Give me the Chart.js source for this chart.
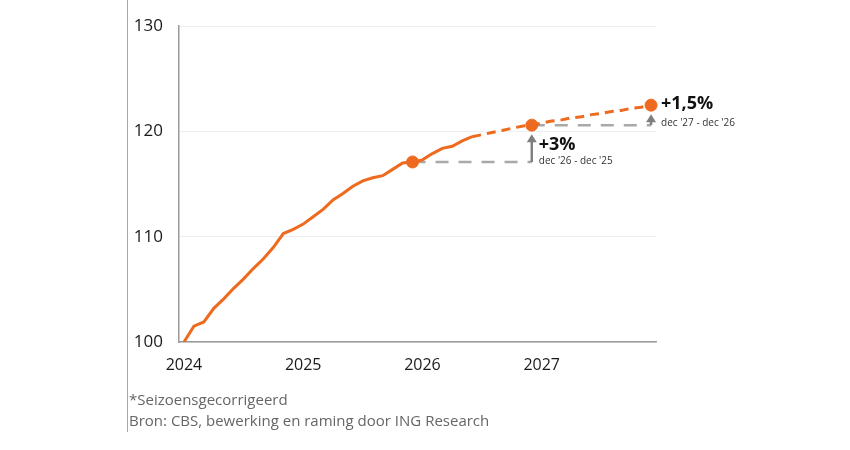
<!DOCTYPE html>
<html>
<head>
<meta charset="utf-8">
<script src="https://cdn.jsdelivr.net/npm/chart.js@4"></script>
<style>
  html, body { margin: 0; padding: 0; background: #fff; }
  #wrap { position: relative; width: 850px; height: 450px; overflow: hidden; }
  #chart { position: absolute; left: 0; top: 0; }
  .edge { position: absolute; left: 127px; top: 0; height: 432px; border-left: 1.5px solid #a8a8a8; }
  .note { position: absolute; left: 129px; font: 15px 'Open Sans', sans-serif; color: #666; white-space: nowrap; }
</style>
</head>
<body>
<div id="wrap">
  <canvas id="chart" width="850" height="450"></canvas>
  <div class="edge"></div>
  <div class="note" style="top:389px">*Seizoensgecorrigeerd</div>
  <div class="note" style="top:410px">Bron: CBS, bewerking en raming door ING Research</div>
</div>
<script>
  // Categories: monthly, jan 2024 .. dec 2027
  var years = ['2024', '2025', '2026', '2027'];
  var months = [];
  years.forEach(function(y) {
    for (var m = 1; m <= 12; m++) months.push(y + '-' + (m < 10 ? '0' + m : m));
  });

  // Index (jan 2024 = 100), realised up to jun 2026
  var realised = [
    100.0, 101.5, 101.9, 103.2, 104.1, 105.1, 106.0, 107.0, 107.9, 109.0, 110.3, 110.7,
    111.2, 111.9, 112.6, 113.5, 114.1, 114.8, 115.3, 115.6, 115.8, 116.4, 117.0, 117.1,
    117.3, 117.9, 118.4, 118.6, 119.1, 119.5
  ];
  // ING forecast, jun 2026 .. dec 2027
  var forecast = [
    119.5, 119.7, 119.9, 120.1, 120.3, 120.5, 120.6,
    120.8, 121.0, 121.1, 121.3, 121.4, 121.6, 121.7, 121.9, 122.0, 122.2, 122.3, 122.5
  ];
  var markerMonths = ['2025-12', '2026-12', '2027-12'];
  var markerValues = [117.1, 120.6, 122.5];
  var growthLabels = ['+3%', '+1,5%'];
  var growthPeriods = ["dec '26 - dec '25", "dec '27 - dec '26"];
  var yTicks = [100, 110, 120, 130];

  var ORANGE = '#EE6A1F';
  var GREY = '#a9a9a9';

  function seriesAt(values, startMonth) {
    var start = months.indexOf(startMonth);
    return months.map(function(m, i) {
      var k = i - start;
      return k >= 0 && k < values.length ? values[k] : null;
    });
  }

  var markerData = months.map(function(m) {
    var k = markerMonths.indexOf(m);
    return k >= 0 ? markerValues[k] : null;
  });

  // grey reference lines: previous december level carried to the next december
  var refLines = [0, 1].map(function(i) {
    return months.map(function(m) {
      return (m === markerMonths[i] || m === markerMonths[i + 1]) ? markerValues[i] : null;
    });
  });

  // arrows + growth labels
  var growthPlugin = {
    id: 'growth',
    afterDatasetsDraw: function(chart) {
      var ctx = chart.ctx;
      var xs = chart.scales.x, ys = chart.scales.y;
      for (var i = 0; i < 2; i++) {
        var x = xs.getPixelForValue(months.indexOf(markerMonths[i + 1]));
        var yFrom = ys.getPixelForValue(markerValues[i]);
        var yTo = ys.getPixelForValue(markerValues[i + 1]) + 9;
        ctx.save();
        ctx.strokeStyle = '#7f7f7f';
        ctx.fillStyle = '#7f7f7f';
        ctx.lineWidth = 2.5;
        ctx.beginPath();
        ctx.moveTo(x, yFrom);
        ctx.lineTo(x, yTo + 6);
        ctx.stroke();
        ctx.beginPath();
        ctx.moveTo(x, yTo);
        ctx.lineTo(x - 5, yTo + 8);
        ctx.lineTo(x + 5, yTo + 8);
        ctx.closePath();
        ctx.fill();

        ctx.textAlign = 'left';
        ctx.textBaseline = 'middle';
        ctx.fillStyle = '#111';
        ctx.font = 'bold 18px "Open Sans", sans-serif';
        var tx, ty1, ty2;
        if (i === 0) { tx = x + 7; ty1 = yFrom - 17; ty2 = yFrom - 1; }
        else { tx = x + 10; ty1 = ys.getPixelForValue(markerValues[2]) - 1; ty2 = ty1 + 19; }
        ctx.fillText(growthLabels[i], tx, ty1);
        ctx.font = '10px "Open Sans", sans-serif';
        ctx.fillStyle = '#333';
        ctx.fillText(growthPeriods[i], tx, ty2);
        ctx.restore();
      }
    }
  };

  new Chart(document.getElementById('chart'), {
    type: 'line',
    data: {
      labels: months,
      datasets: [
        {
          data: seriesAt(realised, '2024-01'),
          borderColor: ORANGE, borderWidth: 3, pointRadius: 0,
          tension: 0, order: 2
        },
        {
          data: seriesAt(forecast, '2026-06'),
          borderColor: ORANGE, borderWidth: 3, borderDash: [9, 6], pointRadius: 0,
          tension: 0, order: 2
        },
        {
          data: refLines[0], spanGaps: true,
          borderColor: GREY, borderWidth: 2.5, borderDash: [13, 10], pointRadius: 0, order: 5
        },
        {
          data: refLines[1], spanGaps: true,
          borderColor: GREY, borderWidth: 2.5, borderDash: [13, 10], pointRadius: 0, order: 5
        },
        {
          data: markerData, showLine: false,
          pointRadius: 6, pointBackgroundColor: ORANGE, pointBorderColor: ORANGE, order: 0
        }
      ]
    },
    options: {
      responsive: false,
      animation: false,
      layout: { padding: { left: 0, right: 194, top: 25, bottom: 68 } },
      plugins: { legend: { display: false }, tooltip: { enabled: false } },
      scales: {
        x: {
          offset: true,
          grid: { display: false, drawTicks: false },
          border: { color: '#9a9a9a', width: 1.5 },
          afterFit: function(s) { s.height = 40; },
          ticks: {
            autoSkip: false, maxRotation: 0, padding: 14,
            color: '#1a1a1a', font: { family: 'Open Sans', size: 16 },
            callback: function(v, i) {
              var m = months[i];
              return m.slice(5) === '01' ? m.slice(0, 4) : '';
            }
          }
        },
        y: {
          min: 100, max: 130,
          afterFit: function(s) { s.width = 179; },
          afterBuildTicks: function(s) { s.ticks = yTicks.map(function(v) { return { value: v }; }); },
          grid: { color: '#efefef', lineWidth: 1, drawTicks: false },
          border: { color: '#9a9a9a', width: 1.5 },
          ticks: {
            padding: 16, color: '#1a1a1a',
            font: { family: 'Open Sans', size: 17 }
          }
        }
      }
    },
    plugins: [growthPlugin]
  });
</script>
</body>
</html>
